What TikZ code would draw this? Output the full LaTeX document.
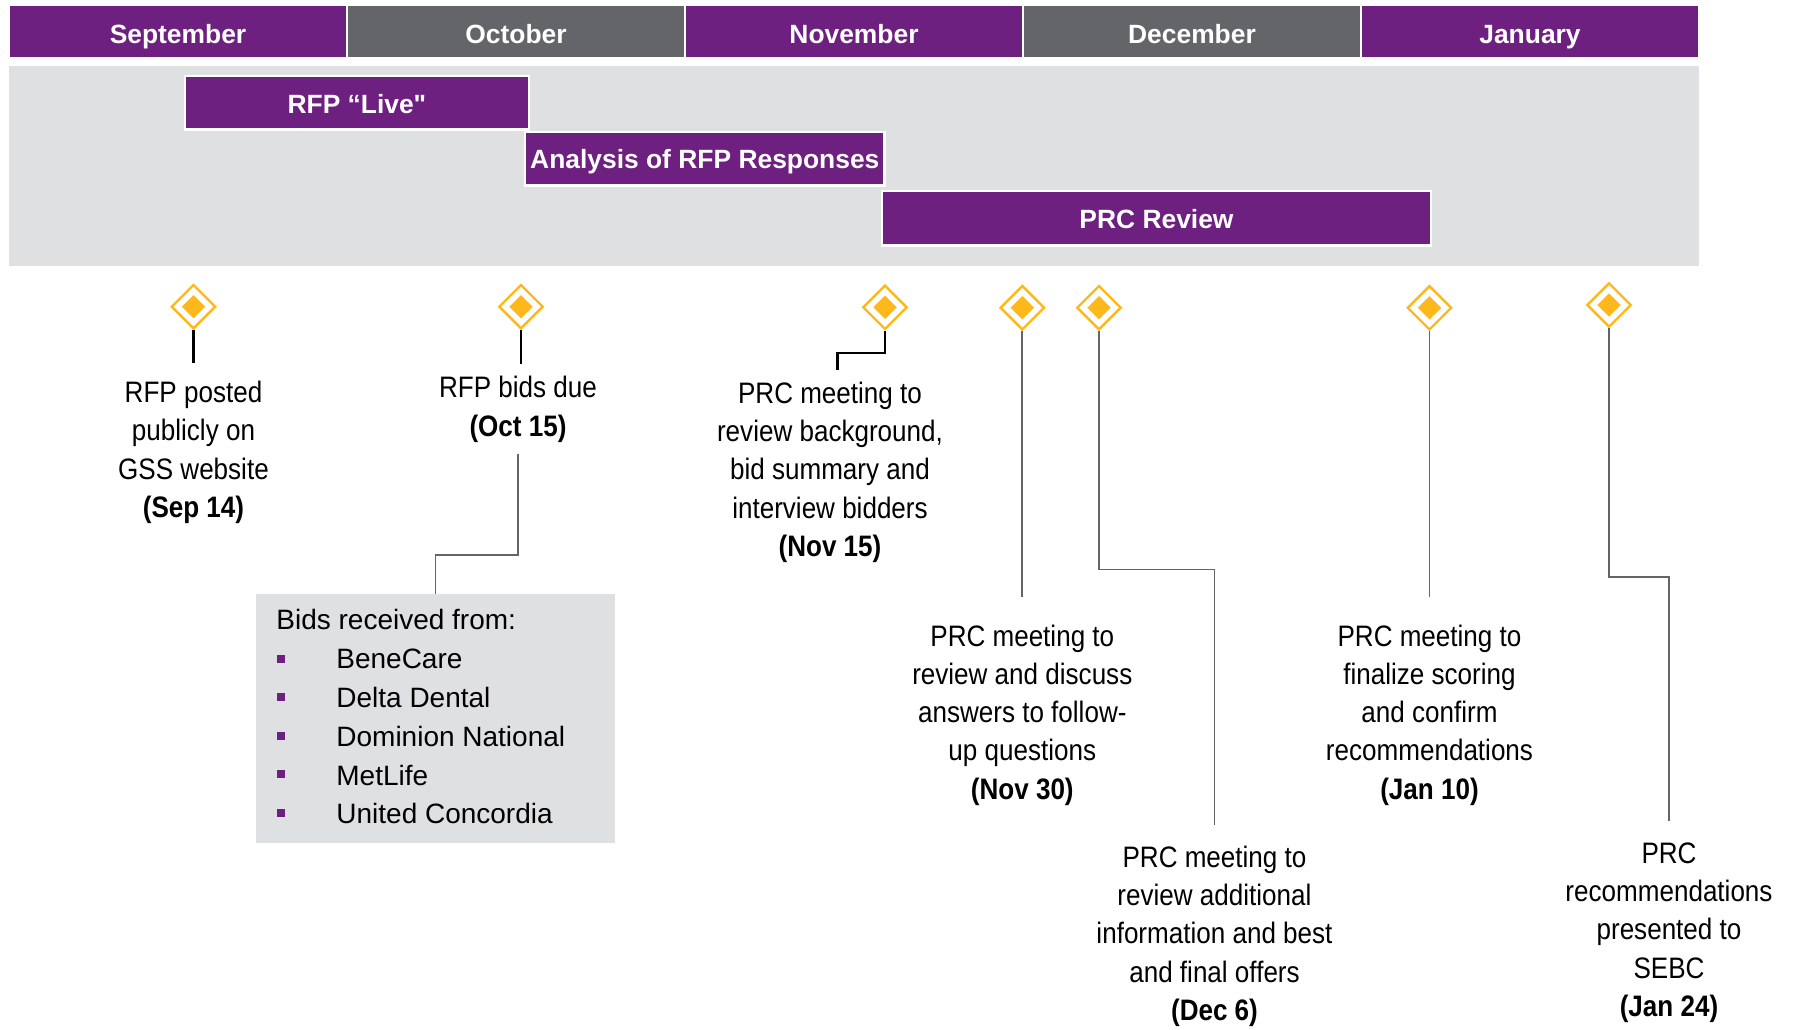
\documentclass[tikz,border=0pt]{standalone}
\usepackage{fontspec}
\setmainfont{Liberation Sans}
\newfontfamily\narrow[FakeStretch=0.88]{Liberation Sans}
\newfontfamily\boxfont{Liberation Sans}
\usetikzlibrary{shapes.geometric}
\definecolor{plum}{RGB}{110,32,128}
\definecolor{slate}{RGB}{99,101,105}
\definecolor{mist}{RGB}{223,224,226}
\definecolor{amber}{RGB}{255,184,28}
\tikzset{
    month/.style={fill=#1, draw=white, line width=1pt, minimum width=169pt, minimum height=26.2pt, inner sep=0pt, text=white, text height=11.6pt, text depth=0pt, font=\fontsize{13.2}{15}\selectfont\bfseries},
    phase/.style={fill=plum, draw=white, line width=1.2pt, inner sep=0pt, text=white, text height=10.4pt, text depth=0pt, font=\boxfont\fontsize{13.2}{15}\selectfont\bfseries},
    mile/.style={diamond, aspect=1, draw=amber, line width=1.2pt, fill=white, minimum size=22.2pt, inner sep=0pt,
        path picture={\fill[amber] ([yshift=5.85pt]path picture bounding box.center) -- ++(5.85pt,-5.85pt) -- ++(-5.85pt,-5.85pt) -- ++(-5.85pt,5.85pt) -- cycle;}},
    note/.style={align=center, inner sep=0pt, font=\narrow\fontsize{14.8}{19.15}\selectfont},
    item/.style={inner sep=0pt, anchor=base west, font=\fontsize{14}{16}\selectfont},
    bul/.style={fill=plum, minimum size=4pt, inner sep=0pt},
    blackline/.style={line width=1.3pt},
    grayline/.style={draw=slate, line width=0.85pt}
}
\begin{document}
\begin{tikzpicture}[x=0.5pt, y=-0.5pt]
    \useasboundingbox (0,0) rectangle (1800,1029);
    % months
    \node[month=plum] (m1) at (178, 31.5) {September};
    \node[month=slate] (m2) at (516, 31.5) {October};
    \node[month=plum] (m3) at (854, 31.5) {November};
    \node[month=slate] (m4) at (1192, 31.5) {December};
    \node[month=plum] (m5) at (1530, 31.5) {January};
    % phases
    \fill[mist] (9,66) rectangle (1699,265.7);
    \node[phase, minimum width=171.9pt, minimum height=26.7pt] (live) at (356.9, 102.7) {RFP “Live"};
    \node[phase, minimum width=179.8pt, minimum height=26.8pt] (ana) at (704.8, 158.5) {Analysis of RFP Responses};
    \node[phase, minimum width=274.5pt, minimum height=27.1pt] (prc) at (1156.5, 218.2) {PRC Review};
    % milestones
    \node[mile] (d1) at (193.5, 306.7) {};
    \node[mile] (d2) at (521, 306.7) {};
    \node[mile] (d3) at (885, 307.3) {};
    \node[mile] (d4) at (1022.3, 307.7) {};
    \node[mile] (d5) at (1099, 307.7) {};
    \node[mile] (d6) at (1429.5, 307.8) {};
    \node[mile] (d7) at (1609, 305) {};
    \node[note] (sep) at (193.5, 452.4) {RFP posted\\publicly on\\GSS website\\\textbf{(Sep 14)}};
    \node[note] (oct) at (518, 409.4) {RFP bids due\\\textbf{(Oct 15)}};
    \node[note] (nov15) at (830, 472.2) {PRC meeting to\\review background,\\bid summary and\\interview bidders\\\textbf{(Nov 15)}};
    \node[note] (nov30) at (1022.3, 715) {PRC meeting to\\review and discuss\\answers to follow-\\up questions\\\textbf{(Nov 30)}};
    \node[note] (dec6) at (1214.5, 936.3) {PRC meeting to\\review additional\\information and best\\and final offers\\\textbf{(Dec 6)}};
    \node[note] (jan10) at (1429.5, 715) {PRC meeting to\\finalize scoring\\and confirm\\recommendations\\\textbf{(Jan 10)}};
    \node[note] (jan24) at (1669, 932.5) {PRC\\recommendations\\presented to\\SEBC\\\textbf{(Jan 24)}};
    % bids box
    \node[fill=mist, minimum width=179.5pt, minimum height=124.5pt, inner sep=0pt] (bids) at (435.5, 718.5) {};
    \node[item] (hdr) at (276, 629.3) {Bids received from:};
    \node[bul] (b1) at (281.2, 659.3) {};
    \node[bul] (b2) at (281.2, 697.3) {};
    \node[bul] (b3) at (281.2, 735.7) {};
    \node[bul] (b4) at (281.2, 774.3) {};
    \node[bul] (b5) at (281.2, 813.3) {};
    \node[item] (i1) at (336, 668.3) {BeneCare};
    \node[item] (i2) at (336, 707.3) {Delta Dental};
    \node[item] (i3) at (336, 746.7) {Dominion National};
    \node[item] (i4) at (336, 785) {MetLife};
    \node[item] (i5) at (336, 823.3) {United Concordia};
    % connectors
    \draw [blackline, shorten >=8.8pt] (d1.south) -- (d1.south |- sep.north);
    \draw [blackline, shorten >=6pt] (d2.south) -- (d2.south |- oct.north);
    \draw [blackline, shorten >=5.5pt] (d3.south) -- ++(0,22.2) -| ([xshift=3.8pt]nov15.north);
    \draw [grayline, shorten >=13.5pt] (d4.south) -- (d4.south |- nov30.north);
    \draw [grayline, shorten >=10.5pt] (d5.south) -- ++(0,238.3) -| (dec6.north);
    \draw [grayline, shorten >=13.5pt] (d6.south) -- (d6.south |- jan10.north);
    \draw [grayline, shorten >=10.8pt] (d7.south) -- ++(0,248.5) -| (jan24.north);
    \draw [grayline, shorten <=5.8pt] (oct.south) -- ++(0,112.5) -| (bids.north);
\end{tikzpicture}
\end{document}
